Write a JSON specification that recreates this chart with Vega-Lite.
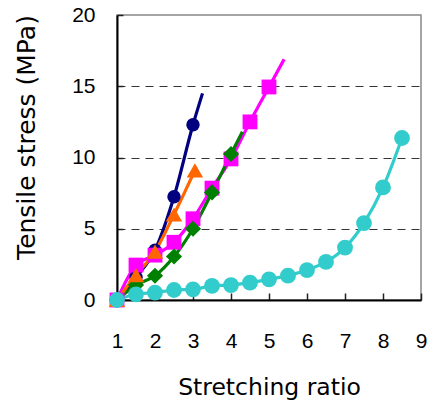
{
  "$schema": "https://vega.github.io/schema/vega-lite/v6.json",
  "width": 304,
  "height": 285,
  "autosize": "none",
  "padding": {"left": 117, "top": 15, "right": 9, "bottom": 103},
  "background": "white",
  "config": {"view": {"stroke": "#888888", "strokeWidth": 1.5}},
  "data": {
    "values": [
      {"s": "S1", "x": 1, "y": 0, "m": 1},
      {"s": "S1", "x": 1.5, "y": 1.6, "m": 1},
      {"s": "S1", "x": 2, "y": 3.5, "m": 1},
      {"s": "S1", "x": 2.5, "y": 7.25, "m": 1},
      {"s": "S1", "x": 3, "y": 12.3, "m": 1},
      {"s": "S1", "x": 3.25, "y": 14.5, "m": 0},
      {"s": "S3", "x": 1, "y": 0, "m": 1},
      {"s": "S3", "x": 1.5, "y": 2.45, "m": 1},
      {"s": "S3", "x": 2, "y": 3.15, "m": 1},
      {"s": "S3", "x": 2.5, "y": 4.05, "m": 1},
      {"s": "S3", "x": 3, "y": 5.7, "m": 1},
      {"s": "S3", "x": 3.5, "y": 7.85, "m": 1},
      {"s": "S3", "x": 4, "y": 9.9, "m": 1},
      {"s": "S3", "x": 4.5, "y": 12.5, "m": 1},
      {"s": "S3", "x": 5, "y": 14.95, "m": 1},
      {"s": "S3", "x": 5.4, "y": 16.9, "m": 0},
      {"s": "S4", "x": 1, "y": 0, "m": 1},
      {"s": "S4", "x": 1.5, "y": 1.05, "m": 1},
      {"s": "S4", "x": 2, "y": 1.7, "m": 1},
      {"s": "S4", "x": 2.5, "y": 3.05, "m": 1},
      {"s": "S4", "x": 3, "y": 5.0, "m": 1},
      {"s": "S4", "x": 3.5, "y": 7.55, "m": 1},
      {"s": "S4", "x": 4, "y": 10.25, "m": 1},
      {"s": "S4", "x": 4.3, "y": 11.8, "m": 0},
      {"s": "S2", "x": 1, "y": 0, "m": 1},
      {"s": "S2", "x": 1.5, "y": 1.75, "m": 1},
      {"s": "S2", "x": 2, "y": 3.4, "m": 1},
      {"s": "S2", "x": 2.5, "y": 6.0, "m": 1},
      {"s": "S2", "x": 3.05, "y": 9.1, "m": 1},
      {"s": "S5", "x": 1, "y": 0, "m": 1},
      {"s": "S5", "x": 1.5, "y": 0.4, "m": 1},
      {"s": "S5", "x": 2, "y": 0.52, "m": 1},
      {"s": "S5", "x": 2.5, "y": 0.7, "m": 1},
      {"s": "S5", "x": 3, "y": 0.75, "m": 1},
      {"s": "S5", "x": 3.5, "y": 0.99, "m": 1},
      {"s": "S5", "x": 4, "y": 1.05, "m": 1},
      {"s": "S5", "x": 4.5, "y": 1.22, "m": 1},
      {"s": "S5", "x": 5, "y": 1.45, "m": 1},
      {"s": "S5", "x": 5.5, "y": 1.71, "m": 1},
      {"s": "S5", "x": 6, "y": 2.1, "m": 1},
      {"s": "S5", "x": 6.5, "y": 2.67, "m": 1},
      {"s": "S5", "x": 7, "y": 3.68, "m": 1},
      {"s": "S5", "x": 7.5, "y": 5.4, "m": 1},
      {"s": "S5", "x": 8, "y": 7.9, "m": 1},
      {"s": "S5", "x": 8.5, "y": 11.37, "m": 1}
    ]
  },
  "encoding": {
    "x": {
      "field": "x", "type": "quantitative",
      "scale": {"domain": [1, 9], "nice": false, "zero": false},
      "axis": {
        "values": [1, 2, 3, 4, 5, 6, 7, 8, 9],
        "title": "Stretching ratio",
        "grid": false,
        "tickSize": -7, "tickColor": "#222222", "tickWidth": 1.5,
        "domainColor": "black", "domainWidth": 2,
        "labelFont": "Liberation Sans", "labelFontSize": 21, "labelColor": "black",
        "labelPadding": 37, "labelFlush": false,
        "titleFont": "DejaVu Sans", "titleFontSize": 23.5, "titleFontWeight": "normal", "titleColor": "black",
        "titleX": 152, "titleY": 94, "titleBaseline": "alphabetic", "titleAlign": "center"
      }
    },
    "y": {
      "field": "y", "type": "quantitative",
      "scale": {"domain": [0, 20], "nice": false},
      "axis": {
        "values": [0, 5, 10, 15, 20],
        "title": "Tensile stress (MPa)",
        "grid": true, "gridDash": [8, 6], "gridColor": "#333333", "gridWidth": 1,
        "gridOpacity": {"condition": {"test": "datum.value == 0 || datum.value == 20", "value": 0}, "value": 1},
        "tickSize": -6, "tickColor": "#222222", "tickWidth": 1.5,
        "domainColor": "black", "domainWidth": 2,
        "labelFont": "Liberation Sans", "labelFontSize": 21, "labelColor": "black",
        "labelPadding": 28, "labelFlush": false,
        "titleFont": "DejaVu Sans", "titleFontSize": 25, "titleFontWeight": "normal", "titleColor": "black",
        "titleX": -83, "titleY": 122, "titleBaseline": "alphabetic", "titleAlign": "center"
      }
    },
    "color": {
      "field": "s", "type": "nominal",
      "scale": {"domain": ["S1", "S2", "S3", "S4", "S5"], "range": ["#000080", "#FF6600", "#FF00FF", "#008000", "#33CCCC"]},
      "legend": null
    }
  },
  "layer": [
    {"mark": {"type": "line", "strokeWidth": 3.2, "interpolate": "monotone"}},
    {
      "transform": [{"filter": "datum.m == 1"}],
      "mark": {"type": "point", "filled": true, "opacity": 1},
      "encoding": {
        "shape": {"field": "s", "type": "nominal", "scale": {"domain": ["S1", "S2", "S3", "S4", "S5"], "range": ["circle", "triangle-up", "square", "diamond", "circle"]}, "legend": null},
        "size": {"field": "s", "type": "nominal", "scale": {"type": "ordinal", "domain": ["S1", "S2", "S3", "S4", "S5"], "range": [180, 270, 220, 260, 250]}, "legend": null}
      }
    }
  ]
}
